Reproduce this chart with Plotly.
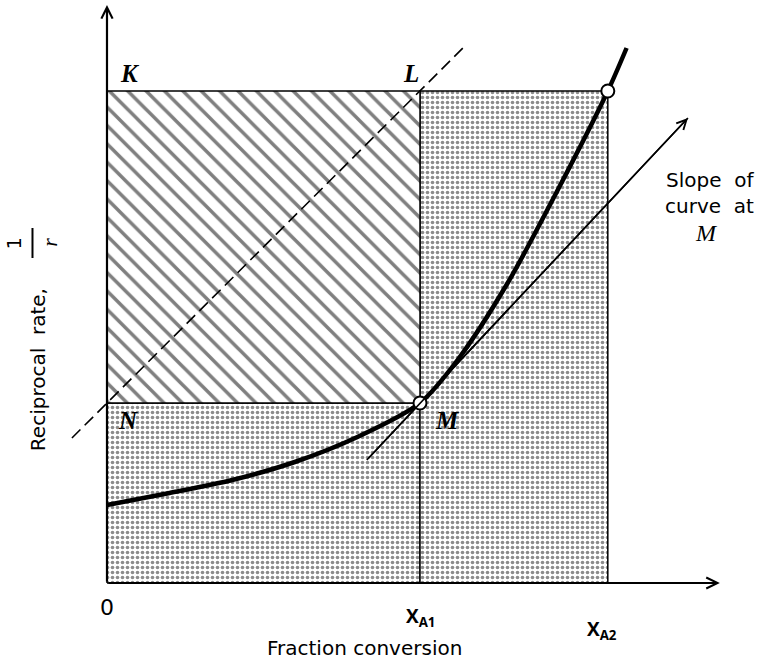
import plotly.graph_objects as go

# Reciprocal rate curve 1/r against fraction conversion X_A
conversion = [0.0, 0.10, 0.20, 0.30, 0.40, 0.50, 0.56, 0.64, 0.72, 0.80, 0.83]
recip_rate = [0.78, 0.90, 1.03, 1.21, 1.46, 1.80, 2.23, 3.00, 3.93, 4.92, 5.35]

# Operating points of the two reactors
x_a1 = 0.50
x_a2 = 0.80
r_a1 = recip_rate[conversion.index(x_a1)]
r_a2 = recip_rate[conversion.index(x_a2)]

# Diagonal N-L (dashed) and tangent at M, given by their end points
diag_x = [-0.056, 0.575]
diag_y = [1.45, 5.39]
tangent_x = [0.415, 0.928]
tangent_y = [1.23, 4.65]

# Axis extents
x_axis_end = 0.979
y_axis_end = 5.78

black = "black"
dots = dict(shape=".", size=5, solidity=0.42, fgcolor="#1a1a1a", bgcolor="white")
hatch = dict(shape="\\", size=13, solidity=0.27, fgcolor=black, bgcolor="white")

fig = go.Figure()

# Stippled area under the level r_a1 between 0 and X_A1
fig.add_trace(go.Scatter(
    x=[0, x_a1, x_a1, 0, 0], y=[0, 0, r_a1, r_a1, 0],
    mode="lines", fill="toself", fillcolor="white", fillpattern=dots,
    line=dict(color=black, width=1.5), hoverinfo="skip"))

# Stippled rectangle between X_A1 and X_A2 up to r_a2
fig.add_trace(go.Scatter(
    x=[x_a1, x_a2, x_a2, x_a1, x_a1], y=[0, 0, r_a2, r_a2, 0],
    mode="lines", fill="toself", fillcolor="white", fillpattern=dots,
    line=dict(color=black, width=1.5), hoverinfo="skip"))

# Hatched rectangle K-L-M-N
fig.add_trace(go.Scatter(
    x=[0, x_a1, x_a1, 0, 0], y=[r_a1, r_a1, r_a2, r_a2, r_a1],
    mode="lines", fill="toself", fillcolor="white", fillpattern=hatch,
    line=dict(color=black, width=1.5), hoverinfo="skip"))

# Dashed diagonal through N and L
fig.add_trace(go.Scatter(
    x=diag_x, y=diag_y, mode="lines",
    line=dict(color=black, width=1.6, dash="12px,6px"), hoverinfo="skip"))

# Tangent line at M
fig.add_trace(go.Scatter(
    x=tangent_x, y=tangent_y, mode="lines",
    line=dict(color=black, width=1.6), hoverinfo="skip"))

# The rate curve
fig.add_trace(go.Scatter(
    x=conversion, y=recip_rate, mode="lines",
    line=dict(color=black, width=4.5, shape="spline", smoothing=0.8),
    hoverinfo="skip"))

# Open circles at the operating points
fig.add_trace(go.Scatter(
    x=[x_a1, x_a2], y=[r_a1, r_a2], mode="markers",
    marker=dict(size=13, color="white", line=dict(color=black, width=2)),
    hoverinfo="skip"))

# Axes drawn as arrows
arrow = dict(xref="x", yref="y", axref="x", ayref="y", text="", showarrow=True,
             arrowhead=5, arrowsize=1.0, arrowwidth=2.2, arrowcolor=black)
fig.add_annotation(x=x_axis_end, y=0, ax=0, ay=0, **arrow)
fig.add_annotation(x=0, y=y_axis_end, ax=0, ay=0, **arrow)
# Arrow head on the tangent
fig.add_annotation(x=tangent_x[1], y=tangent_y[1], ax=tangent_x[0], ay=tangent_y[0],
                   **{**arrow, "arrowwidth": 1.6, "arrowsize": 1.2})

serif_it = dict(family="Liberation Serif", size=25, color=black)
sans = dict(family="DejaVu Sans", size=20, color=black)
sub_font = dict(family="Open Sans", size=19, color=black)

def label(text, x, y, font, **kw):
    fig.add_annotation(x=x, y=y, xref="x", yref="y", text=text, showarrow=False,
                       font=font, **kw)

label("<b><i>K</i></b>", 0.037, 5.10, serif_it)
label("<b><i>L</i></b>", 0.486, 5.10, serif_it)
label("<b><i>N</i></b>", 0.034, 1.63, serif_it)
label("<b><i>M</i></b>", 0.543, 1.63, serif_it)

label("0", 0.0, -0.24, dict(family="DejaVu Sans", size=22, color=black))
label("<b>X<sub>A1</sub></b>", x_a1, -0.34, sub_font)
label("<b>X<sub>A2</sub></b>", 0.790, -0.47, sub_font)
label("Fraction conversion", 0.412, -0.65, sans)

label("Slope&nbsp; of", 0.963, 4.03, sans)
label("curve&nbsp; at", 0.963, 3.77, sans)
label("<i>M</i>", 0.958, 3.50, dict(family="Liberation Serif", size=24, color=black))

# Vertical axis title: "Reciprocal rate, 1/r"
label("Reciprocal&nbsp; rate,", -0.110, 2.13, sans, textangle=-90)
label("1", -0.148, 3.40, dict(family="DejaVu Sans", size=19, color=black), textangle=-90)
label("<i>r</i>", -0.093, 3.41, dict(family="Liberation Serif", size=22, color=black), textangle=-90)
fig.add_shape(type="line", xref="x", yref="y", x0=-0.119, x1=-0.119, y0=3.25, y1=3.55,
              line=dict(color=black, width=2))

fig.update_layout(
    width=759, height=663,
    margin=dict(l=0, r=0, t=0, b=0),
    paper_bgcolor="white", plot_bgcolor="white",
    showlegend=False,
    xaxis=dict(range=[-0.1709, 1.0415], visible=False, fixedrange=True),
    yaxis=dict(range=[-0.80, 5.83], visible=False, fixedrange=True),
)

fig.write_html("out.html")
